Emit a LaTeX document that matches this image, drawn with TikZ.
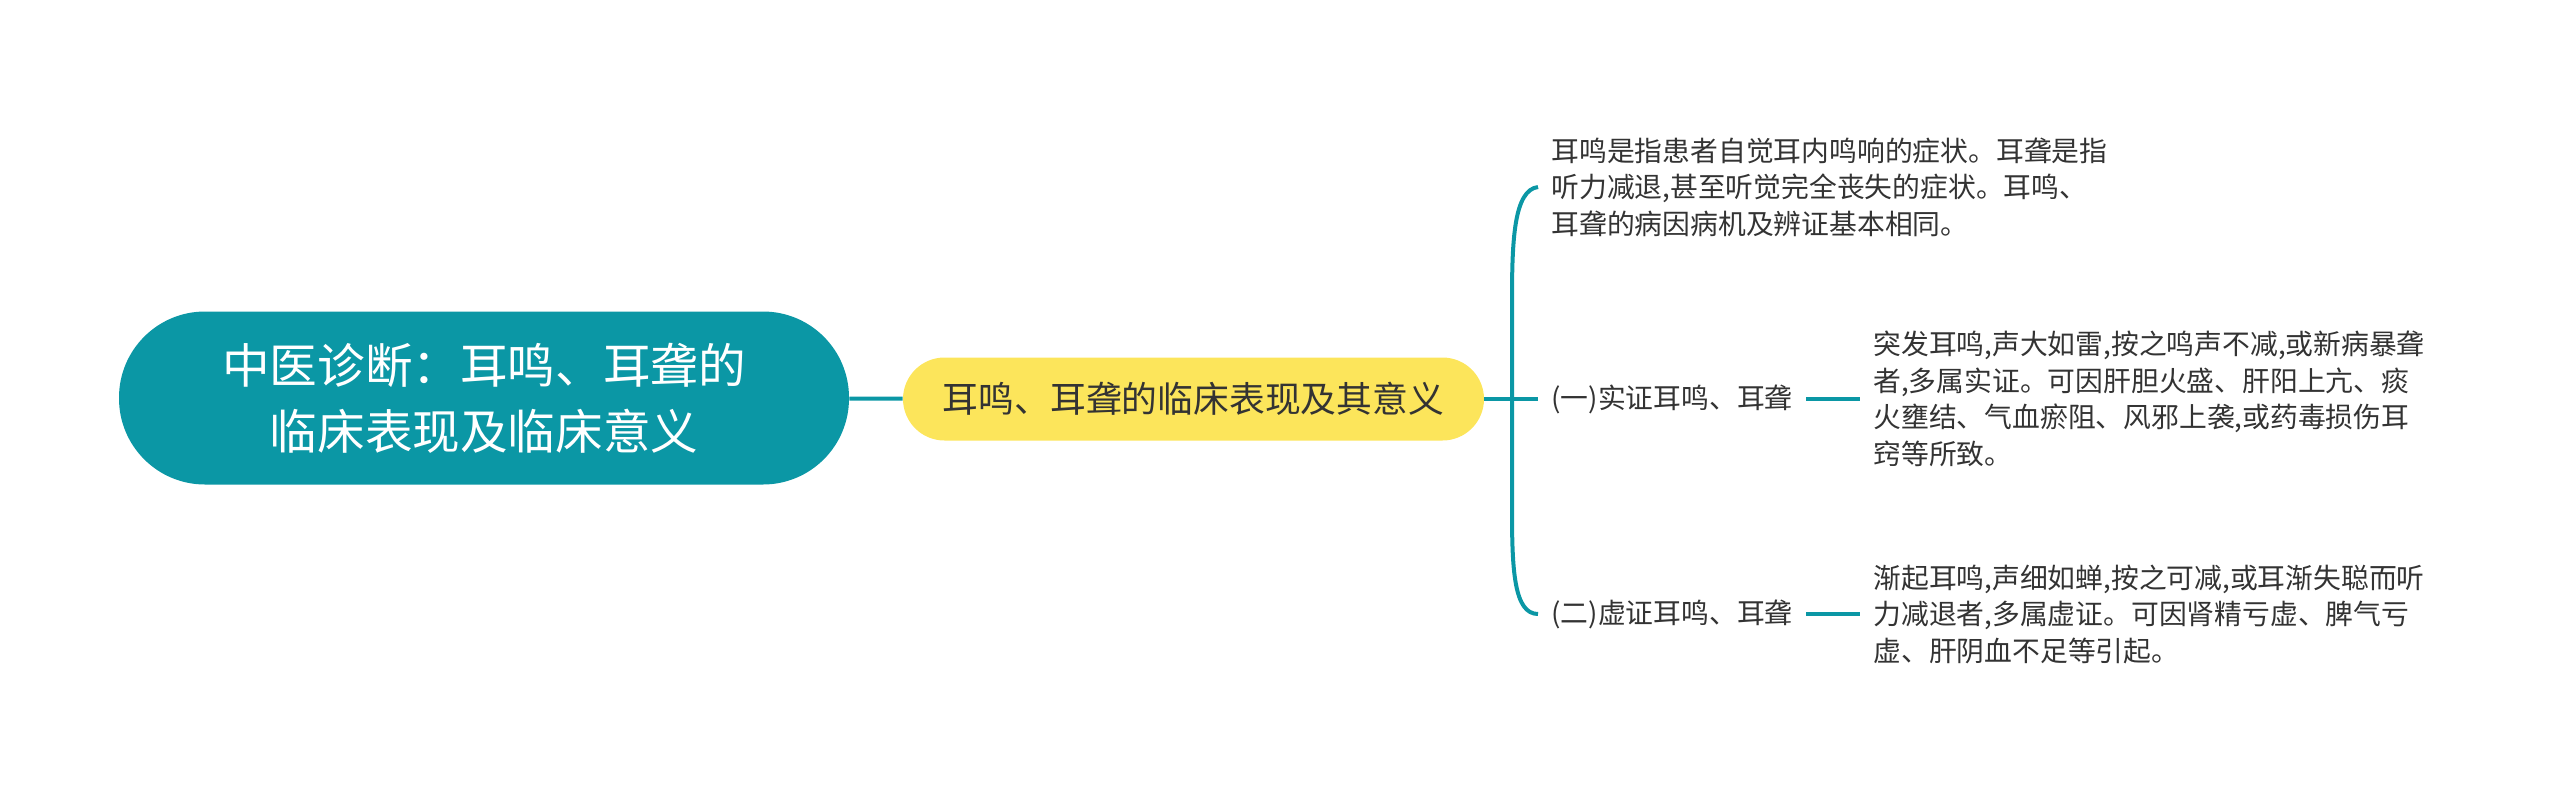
\documentclass[tikz,border=0pt]{standalone}
\usepackage{fontspec}
\setmainfont{Noto Sans CJK SC}
\usepackage{tikz}
\definecolor{MapTeal}{HTML}{0B97A5}
\definecolor{MapYellow}{HTML}{FCE55B}
\definecolor{MapText}{HTML}{333333}
\usetikzlibrary{
	positioning,
	calc
}

\begin{document}
\begin{tikzpicture}[
	x=0.5pt, y=-0.5pt,
	rootbox/.style={fill=MapTeal, text=white, rounded corners=43pt, minimum width=365pt, minimum height=86.5pt, align=center, font=\fontsize{23.8}{33}\selectfont},
	topicbox/.style={fill=MapYellow, text=MapText, rounded corners=20.75pt, minimum width=290.5pt, minimum height=41.5pt, font=\fontsize{17.9}{22}\selectfont},
	leaf/.style={text=MapText, inner xsep=6.5pt, inner ysep=0pt, align=left, font=\fontsize{13.9}{18.25}\selectfont},
	link/.style={draw=MapTeal, line width=2pt}
]
	\useasboundingbox (0,0) rectangle (2560,798);

	\node[rootbox] (root) at (484,398) {中医诊断：耳鸣、耳聋的\\临床表现及临床意义};
	\node[topicbox] (topic) at (1193.5,399) {耳鸣、耳聋的临床表现及其意义};
	\draw[link] (root) -- (topic);

	\coordinate (hub) at (1512,399);
	\node[leaf, anchor=west] (desc) at (1538,187) {耳鸣是指患者自觉耳内鸣响的症状。耳聋是指\\听力减退,甚至听觉完全丧失的症状。耳鸣、\\耳聋的病因病机及辨证基本相同。};
	\node[leaf, anchor=west] (real) at (1538,399) {(一)实证耳鸣、耳聋};
	\node[leaf, right=27pt of real] (realtext) {突发耳鸣,声大如雷,按之鸣声不减,或新病暴聋\\者,多属实证。可因肝胆火盛、肝阳上亢、痰\\火壅结、气血瘀阻、风邪上袭,或药毒损伤耳\\窍等所致。};
	\node[leaf, anchor=west] (virt) at (1538,614) {(二)虚证耳鸣、耳聋};
	\node[leaf, right=27pt of virt] (virttext) {渐起耳鸣,声细如蝉,按之可减,或耳渐失聪而听\\力减退者,多属虚证。可因肾精亏虚、脾气亏\\虚、肝阴血不足等引起。};

	\draw[link] (topic) -- (real);
	\draw[link] (desc.west) .. controls (1514,190) and (1512,240) .. (1512,300) -- (hub) -- (1512,510) .. controls (1512,570) and (1514,614) .. (virt.west);
	\draw[link] (real) -- (realtext);
	\draw[link] (virt) -- (virttext);

\end{tikzpicture}
\end{document}
